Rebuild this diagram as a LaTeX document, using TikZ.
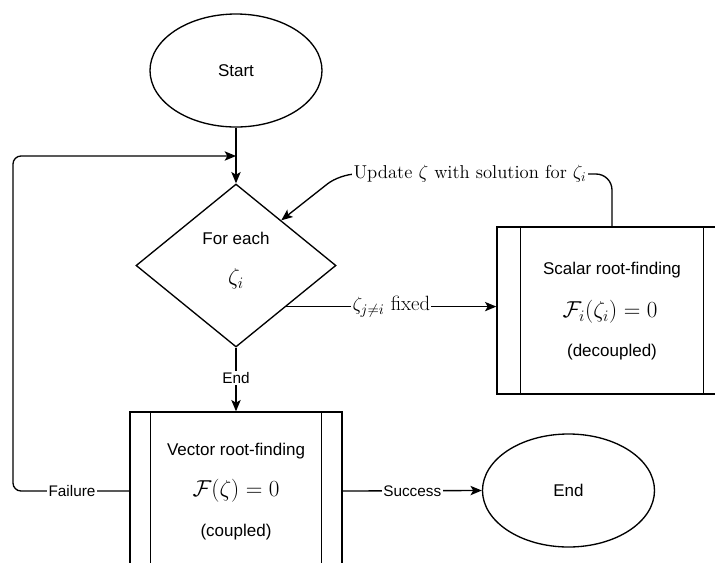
\documentclass[tikz,border=0pt]{standalone}
\usepackage{fontspec}
\usepackage{amsmath}
\newfontfamily\arialfont{Liberation Sans}
\usetikzlibrary{shapes.geometric,arrows.meta,calc}
\begin{document}
\begin{tikzpicture}[x=0.75pt,y=-0.75pt,
  line width=1pt,
  term/.style={ellipse,draw,inner sep=0pt,minimum width=129pt,minimum height=84.75pt,font=\arialfont\fontsize{12.75}{15}\selectfont},
  dec/.style={diamond,draw,inner sep=0pt,minimum width=150pt,minimum height=122.25pt},
  proc/.style={rectangle,draw,inner sep=0pt},
  stxt/.style={inner sep=0pt,font=\arialfont\fontsize{12.75}{15}\selectfont},
  mtxt/.style={inner sep=0pt,font=\fontsize{17}{20}\selectfont},
  lbl/.style={fill=white,inner sep=1pt,font=\arialfont\fontsize{11.5}{13}\selectfont},
  mlbl/.style={fill=white,inner sep=1pt,font=\fontsize{14}{17}\selectfont},
  arr/.style={-{Stealth[length=8.5pt,width=7pt,inset=2pt]}}
]
\useasboundingbox (0,0) rectangle (715,562);
\begin{scope}
\clip (0,0) rectangle (715,562);
% nodes
\node[term] (start) at (236,70.5) {Start};
\node[dec] (d) at (236,265.5) {};
\node[stxt] (dt1) at (236,238) {For each};
\node[mtxt] (dt2) at (236,279) {$\zeta_i$};
\node[proc,minimum width=172.5pt,minimum height=125.25pt] (sc) at (612,310.5) {};
\draw ([xshift=18pt]sc.north west) -- ([xshift=18pt]sc.south west);
\draw ([xshift=-18pt]sc.north east) -- ([xshift=-18pt]sc.south east);
\node[stxt] (sc1) at (612,270) {Scalar root-finding};
\node[mtxt] (sc2) at (610,312) {$\mathcal{F}_i(\zeta_i)=0$};
\node[stxt] (sc3) at (612,352) {(decoupled)};
\node[proc,minimum width=159pt,minimum height=118.5pt] (v) at (236,491) {};
\draw ([xshift=15.75pt]v.north west) -- ([xshift=15.75pt]v.south west);
\draw ([xshift=-15.75pt]v.north east) -- ([xshift=-15.75pt]v.south east);
\node[stxt] (v1) at (236,451) {Vector root-finding};
\node[mtxt] (v2) at (236,491) {$\mathcal{F}(\zeta)=0$};
\node[stxt] (v3) at (236,532) {(coupled)};
\node[term] (end) at (568.5,490.5) {End};
% connectors
\coordinate (merge) at (236,156);
\coordinate (fl) at (13,491);
\coordinate (tip) at ($(d.north)!0.45!(d.east)$);
\draw[arr] (start.south) -- (d.north);
\draw[arr,rounded corners=6pt] (v.west) -- (fl) -- (13,156) -- (merge);
\node[lbl] (fail) at (72,491) {Failure};
\draw[arr] (d.south) -- node[lbl,pos=0.47] (endl) {End} (v.north);
\draw[arr] (d.south east) -- node[mlbl,pos=0.5,font=\fontsize{15.5}{18}\selectfont] (fix) {$\zeta_{j\neq i}$ fixed} (d.south east -| sc.west);
\draw[arr] (v.east) -- node[lbl,pos=0.5] (succ) {Success} (end.west);
\draw[arr,rounded corners=12pt] (sc.north) |- (340,174) -- (tip);
\node[mlbl] (upd) at (470,174) {Update $\zeta$ with solution for $\zeta_i$};
\end{scope}
\end{tikzpicture}
\end{document}
